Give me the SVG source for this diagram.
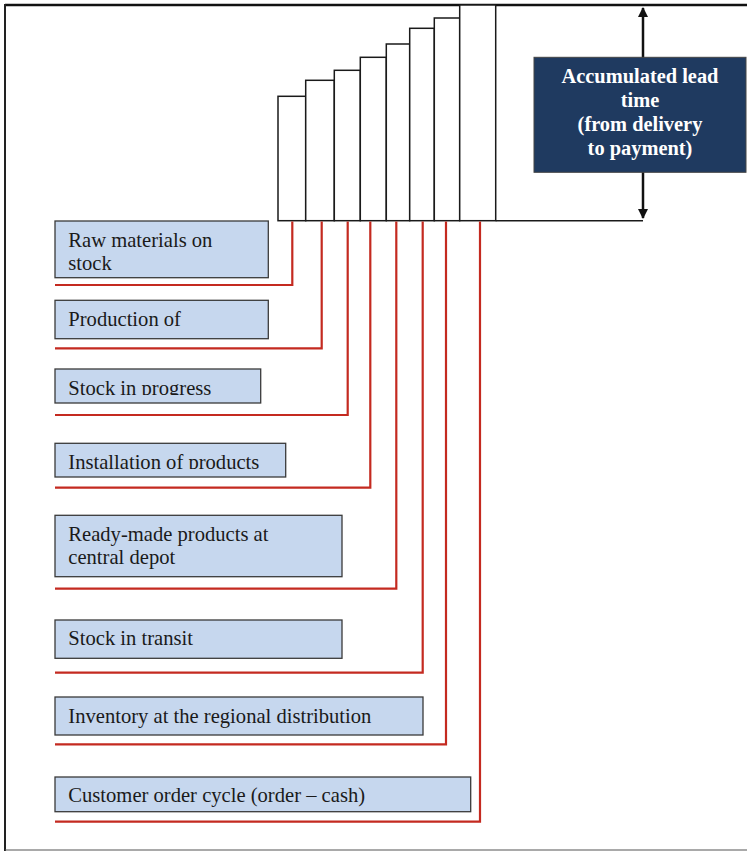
<svg xmlns="http://www.w3.org/2000/svg" width="747" height="851" viewBox="0 0 747 851">
<style>
.bar{fill:#fff;stroke:#1a1a1a;stroke-width:1.5}
.box{fill:#c6d7ee;stroke:#3a3a3a;stroke-width:1.3}
.lbl{font-family:"Liberation Serif","Times New Roman",serif;font-size:20.6px;fill:#1a1a1a}
.red{fill:none;stroke:#c42a20;stroke-width:2.2}
.hd{font-family:"Liberation Serif","Times New Roman",serif;font-size:20.4px;font-weight:bold;fill:#fff;text-anchor:middle}
</style>
<defs>
<marker id="ah" viewBox="0 0 10 10" refX="9" refY="5" markerWidth="4" markerHeight="4" orient="auto-start-reverse">
<path d="M0,0 L10,5 L0,10 z" fill="#111"/>
</marker>
<clipPath id="c3"><rect x="55" y="369" width="206" height="26"/></clipPath>
<clipPath id="c4"><rect x="55" y="443" width="231" height="26"/></clipPath>
</defs>
<rect width="747" height="851" fill="#fff"/>
<g id="frame" fill="none">
<line x1="5" y1="5" x2="747" y2="5" stroke="#111" stroke-width="2.5"/>
<line x1="5" y1="4" x2="5" y2="851" stroke="#222" stroke-width="2"/>
<line x1="5" y1="850" x2="747" y2="850" stroke="#555" stroke-width="1.2"/>
</g>
<g id="bars">
<rect class="bar" x="278" y="96.3" width="27.7" height="124.4"/>
<rect class="bar" x="305.7" y="80.3" width="28.6" height="140.4"/>
<rect class="bar" x="334.3" y="70.3" width="26" height="150.4"/>
<rect class="bar" x="360.3" y="57.3" width="26" height="163.4"/>
<rect class="bar" x="386.3" y="44" width="23.4" height="176.7"/>
<rect class="bar" x="409.7" y="28.3" width="24.6" height="192.4"/>
<rect class="bar" x="434.3" y="18" width="25.4" height="202.7"/>
<rect class="bar" x="459.7" y="5" width="36" height="215.7"/>
<line x1="495.7" y1="220.7" x2="643" y2="220.7" stroke="#1a1a1a" stroke-width="1.5"/>
</g>
<g id="connectors">
<polyline class="red" points="292.3,221.5 292.3,285 55,285"/>
<polyline class="red" points="321.7,221.5 321.7,348.3 55,348.3"/>
<polyline class="red" points="347.7,221.5 347.7,415 55,415"/>
<polyline class="red" points="370.3,221.5 370.3,487.7 55,487.7"/>
<polyline class="red" points="396.3,221.5 396.3,588.7 55,588.7"/>
<polyline class="red" points="422.7,221.5 422.7,672.7 55,672.7"/>
<polyline class="red" points="446,221.5 446,744.3 55,744.3"/>
<polyline class="red" points="480,221.5 480,821.7 55,821.7"/>
<line x1="643" y1="8" x2="643" y2="218" stroke="#111" stroke-width="2.5" marker-start="url(#ah)" marker-end="url(#ah)"/>
</g>
<g id="lead">
<rect x="534" y="57.3" width="212" height="115" fill="#1f3a60" stroke="#444" stroke-width="1"/>
<text class="hd" x="640" y="83">Accumulated lead</text>
<text class="hd" x="640" y="107">time</text>
<text class="hd" x="640" y="131">(from delivery</text>
<text class="hd" x="640" y="155">to payment)</text>
</g>
<g id="n1">
<rect class="box" x="55" y="221" width="213.3" height="56.7"/>
<text class="lbl" x="68.3" y="246.7">Raw materials on</text>
<text class="lbl" x="68.3" y="270">stock</text>
</g>
<g id="n2">
<rect class="box" x="55" y="300.3" width="213.3" height="38.4"/>
<text class="lbl" x="68.3" y="326">Production of</text>
</g>
<g id="n3">
<rect class="box" x="55" y="369" width="205.7" height="34"/>
<text class="lbl" x="68.3" y="394.5" clip-path="url(#c3)">Stock in progress</text>
</g>
<g id="n4">
<rect class="box" x="55" y="443.3" width="230.7" height="33.7"/>
<text class="lbl" x="68.3" y="468.7" clip-path="url(#c4)">Installation of products</text>
</g>
<g id="n5">
<rect class="box" x="55" y="515.3" width="287" height="61.4"/>
<text class="lbl" x="68.3" y="541">Ready-made products at</text>
<text class="lbl" x="68.3" y="564.3">central depot</text>
</g>
<g id="n6">
<rect class="box" x="55" y="620" width="287" height="38.3"/>
<text class="lbl" x="68.3" y="645.3">Stock in transit</text>
</g>
<g id="n7">
<rect class="box" x="55" y="697" width="368" height="38"/>
<text class="lbl" x="68.3" y="723.3">Inventory at the regional distribution</text>
</g>
<g id="n8">
<rect class="box" x="55" y="777" width="415.7" height="34.7"/>
<text class="lbl" x="68.3" y="802.3">Customer order cycle (order – cash)</text>
</g>
</svg>
